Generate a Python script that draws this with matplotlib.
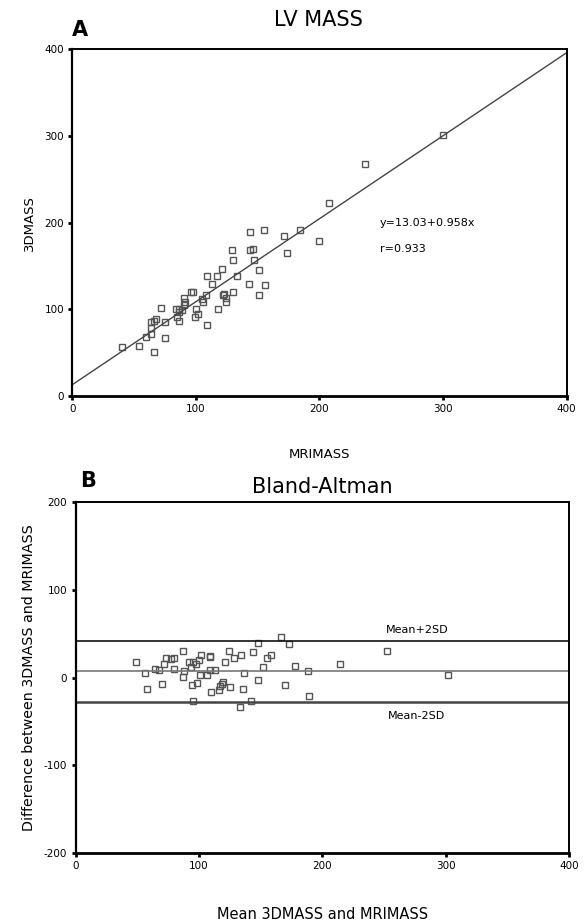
import matplotlib
matplotlib.use("Agg")
import matplotlib.pyplot as plt
import numpy as np

plt.rcParams['font.family'] = ['DejaVu Sans']
plt.rcParams['axes.unicode_minus'] = False

# Panel A data
mri = [300, 237, 208, 200, 184, 171, 174, 155, 144, 151, 146, 144, 147, 129, 130, 121, 133, 109, 117, 113,
       143, 156, 151, 130, 122, 123, 124, 124, 118, 109, 108, 105, 106, 96, 97.5, 100, 101.5, 99, 90, 91,
       90, 84, 86, 89, 85, 86, 72, 75, 75, 68, 66, 64, 64, 64, 60, 54, 40, 66, 86]
d3 = [301, 268, 223, 179, 191, 185, 165, 191, 189, 145, 170, 168, 157, 168, 157, 147, 139, 138, 138, 129,
      129, 128, 116, 120, 117, 118, 113, 108, 100, 82, 117, 112, 108, 120, 119.5, 100, 94.6, 91, 113, 109,
      105, 100, 100, 99, 91, 87, 102, 85, 67, 89, 87, 85, 78, 71, 68, 58, 56, 51, 97]
intercept = 13.03
slope = 0.958
axis_ticks = [0, 100, 200, 300, 400]

# Panel B data
b_mean = [48.5, 56, 57.8, 64, 67.2, 70.2, 71.3, 73.2, 77, 80, 79.6, 87, 87, 88, 92, 95, 97.5, 99.7, 93.3, 94.3,
          98.3, 95, 100.5, 101.3, 106.5, 109, 108.8, 108.8, 112.9, 109.7, 116, 121, 124.2, 128, 119.4, 118.3,
          116.9, 125.3, 133.8, 136.5, 135.7, 133.5, 142, 144, 148, 148, 152, 155, 158.2, 166.5, 170, 172.8,
          178, 188, 189, 214.4, 252.4, 301.7]
b_diff = [17.4, 5.5, -13.1, 9.7, 8.6, -7.4, 15.4, 22.6, 21.1, 22.6, 9.7, 30.3, 0.9, 7.4, 17.4, 17.4, 15.4, 20,
          11.7, -8.9, -5.9, -26.5, 2.9, 25.7, 2.9, 24.6, 23.4, 8.6, 8.6, -16.2, -14.6, 17.4, 30.3, 22.6, -4.8,
          -7.4, -9.4, -10.5, 26.1, 5.5, -13.1, -33.4, -26.5, 29.1, 39.4, -2.9, 11.7, 22.6, 26.1, 46.6, -8.9,
          37.9, 12.8, 7.1, -20.8, 15.4, 30.6, 2.9]
mean_diff = 7.4
upper_loa = 41.9
lower_loa = -27.6
b_yticks = [-200, -100, 0, 100, 200]

W, H = 585, 922
fig = plt.figure(figsize=(W / 100, H / 100), dpi=100)

def style(ax):
    for s in ax.spines.values():
        s.set_linewidth(1.4)
        s.set_color('black')
    ax.spines['bottom'].set_linewidth(2)
    ax.spines['left'].set_linewidth(1.6)
    ax.tick_params(direction='out', length=3, width=2, labelsize=7.5, pad=3, top=False, right=False)

# Panel A
axA = fig.add_axes([72.3 / W, 1 - 396 / H, 494.4 / W, 346.6 / H])
axA.plot(mri, d3, ls='none', marker='s', ms=4.5, mfc='none', mec='#555555', mew=1.0)
xs = np.array([axis_ticks[0], axis_ticks[-1]])
axA.plot(xs, intercept + slope * xs, color='#444444', lw=1.0)
axA.set_xlim(0, 400)
axA.set_ylim(0, 400)
axA.set_xticks(axis_ticks)
axA.set_yticks(axis_ticks)
style(axA)
axA.set_xlabel('MRIMASS', fontsize=9.5, labelpad=24)
axA.set_ylabel('3DMASS', fontsize=9.5, labelpad=6)
axA.text(249, 200, 'y=13.03+0.958x', fontsize=8, va='center', ha='left')
axA.text(249, 169.5, 'r=0.933', fontsize=8, va='center', ha='left')
fig.text(318 / W, 1 - 20 / H, 'LV MASS', fontsize=15, ha='center', va='center')
fig.text(80 / W, 1 - 30 / H, 'A', fontsize=15, fontweight='bold', ha='center', va='center')

# Panel B
axB = fig.add_axes([75.7 / W, 1 - 853 / H, 493.3 / W, 351 / H])
axB.plot(b_mean, b_diff, ls='none', marker='s', ms=4.5, mfc='none', mec='#555555', mew=1.0)
axB.axhline(upper_loa, color='#111111', lw=1.2)
axB.axhline(mean_diff, color='#777777', lw=1.2)
axB.axhline(lower_loa, color='#444444', lw=1.8)
axB.set_xlim(0, 400)
axB.set_ylim(-200, 200)
axB.set_xticks(axis_ticks)
axB.set_yticks(b_yticks)
style(axB)
axB.set_xlabel('Mean 3DMASS and MRIMASS', fontsize=10.5, labelpad=26)
axB.set_ylabel('Difference between 3DMASS and MRIMASS', fontsize=10.3, labelpad=6)
axB.text(276.6, 54, 'Mean+2SD', fontsize=8, ha='center', va='center')
axB.text(276.6, -44, 'Mean-2SD', fontsize=8, ha='center', va='center')
fig.text(322 / W, 1 - 487 / H, 'Bland-Altman', fontsize=15, ha='center', va='center')
fig.text(88 / W, 1 - 481 / H, 'B', fontsize=15, fontweight='bold', ha='center', va='center')

fig.savefig('out.png', dpi=100)
